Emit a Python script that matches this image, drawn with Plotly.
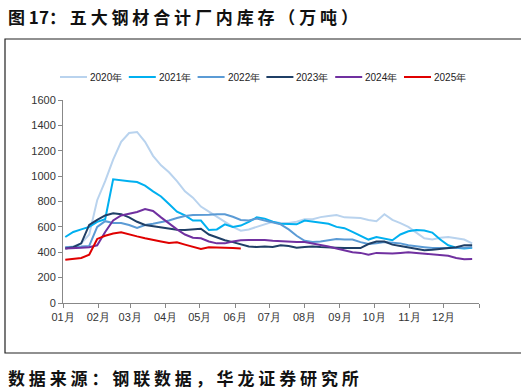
import pandas as pd
import plotly.graph_objects as go

weeks = pd.date_range("2023-01-03", periods=52, freq="7D").strftime("%Y-%m-%d").tolist()

s2020 = [440, 445, 470, 540, 810, 960, 1130, 1270, 1340, 1348, 1270, 1160, 1085, 1030, 960, 880,
         830, 760, 720, 680, 640, 600, 570, 580, 600, 620, 640, 630, 630, 640, 660, 660, 677, 685,
         693, 675, 670, 670, 655, 645, 700, 655, 630, 600, 555, 510, 500, 515, 520, 512, 500, 470]
s2021 = [520, 560, 580, 600, 640, 660, 975, 970, 960, 953, 925, 880, 840, 780, 720, 690, 650, 650,
         575, 580, 620, 600, 610, 640, 675, 665, 640, 625, 620, 620, 650, 640, 635, 625, 600, 590,
         560, 530, 500, 520, 505, 495, 540, 565, 575, 572, 555, 500, 455, 435, 430, 435]
s2022 = [440, 440, 445, 450, 600, 645, 630, 630, 615, 591, 615, 625, 635, 650, 670, 685, 693, 693,
         695, 700, 700, 680, 655, 650, 665, 650, 635, 620, 580, 530, 490, 480, 485, 495, 505, 500,
         500, 480, 465, 470, 480, 475, 470, 455, 450, 440, 433, 433, 433, 433, 435, 440]
s2023 = [430, 440, 470, 615, 655, 690, 708, 700, 675, 640, 615, 605, 600, 590, 578, 575, 580, 585,
         540, 515, 495, 480, 460, 445, 441, 445, 441, 455, 450, 435, 441, 445, 441, 441, 436, 433,
         433, 433, 465, 485, 485, 460, 450, 440, 430, 415, 420, 425, 433, 440, 455, 455]
s2024 = [430, 430, 435, 440, 455, 560, 650, 690, 705, 717, 740, 725, 675, 625, 580, 540, 515, 510,
         485, 470, 470, 485, 495, 497, 497, 497, 490, 485, 480, 480, 480, 470, 460, 445, 430, 415,
         400, 395, 380, 395, 390, 390, 395, 400, 395, 390, 385, 380, 372, 355, 345, 347]
s2025 = [340, 345, 355, 380, 505, 530, 548, 558, 540, 525, 510, 495, 485, 473, 478, 460, 445, 425,
         440, 441, 436, 433, 430]

series_names = ["2020年", "2021年", "2022年", "2023年", "2024年", "2025年"]
series_vals = [s2020, s2021, s2022, s2023, s2024, s2025]
colors = ["#B9D3EE", "#00B0F0", "#5B9BD5", "#1F3F66", "#7030A0", "#E00000"]

month_ticks = [f"2023-{m:02d}-01" for m in range(1, 13)] + ["2024-01-01"]
month_labels = [f"{m:02d}月" for m in range(1, 13)] + [""]
y_ticks = [0, 200, 400, 600, 800, 1000, 1200, 1400, 1600]

title_text = "图 17： " + " ".join("五大钢材合计厂内库存（万吨）")
source_text = " ".join("数据来源：钢联数据，华龙证券研究所")

fig = go.Figure()
for name, vals, col in zip(series_names, series_vals, colors):
    fig.add_trace(go.Scatter(x=weeks[:len(vals)], y=vals, name=name, mode="lines",
                             line=dict(color=col, width=2), showlegend=False))

L, R, T, B = 63, 479, 100, 303
W, H = 521, 392
def px(x):
    return (x - L) / (R - L)
def py(y):
    return (B - y) / (B - T)

shapes = [dict(type="rect", xref="paper", yref="paper", x0=px(5), x1=px(523),
               y0=py(353), y1=py(39), line=dict(color="#222222", width=1.2),
               fillcolor="rgba(0,0,0,0)", layer="below")]
annotations = [
    dict(text="<b>" + title_text + "</b>", xref="paper", yref="paper",
         x=px(6), y=py(17), xanchor="left", yanchor="middle", showarrow=False,
         font=dict(family="Noto Sans CJK SC", size=17, color="#111111")),
    dict(text="<b>" + source_text + "</b>", xref="paper", yref="paper",
         x=px(6), y=py(377), xanchor="left", yanchor="middle", showarrow=False,
         font=dict(family="Noto Sans CJK SC", size=17, color="#111111")),
]

# custom legend (line sample + label)
leg_x0, leg_step, leg_len, leg_y = 60, 68.8, 27, 77
for i, (name, col) in enumerate(zip(series_names, colors)):
    x0 = leg_x0 + i * leg_step
    shapes.append(dict(type="line", xref="paper", yref="paper", x0=px(x0), x1=px(x0 + leg_len),
                       y0=py(leg_y), y1=py(leg_y), line=dict(color=col, width=2)))
    annotations.append(dict(text=name, xref="paper", yref="paper", x=px(x0 + leg_len + 1),
                            y=py(leg_y), xanchor="left", yanchor="middle", showarrow=False,
                            font=dict(size=10, color="#222222")))

fig.update_layout(
    width=W, height=H,
    margin=dict(l=L, r=W - R, t=T, b=H - B),
    paper_bgcolor="white", plot_bgcolor="white",
    font=dict(family="Liberation Sans, Arial, sans-serif", size=11, color="#333333"),
    showlegend=False,
    xaxis=dict(type="date", range=["2023-01-01", "2024-01-01"], tickvals=month_ticks,
               ticktext=month_labels, showgrid=False, zeroline=False, showline=True,
               linecolor="#888888", linewidth=1, ticks="outside", tickcolor="#888888",
               ticklen=4, tickfont=dict(size=11, color="#333333")),
    yaxis=dict(range=[0, 1600], tickvals=y_ticks, showgrid=False, zeroline=False,
               showline=True, linecolor="#888888", linewidth=1, ticks="outside",
               tickcolor="#888888", ticklen=4, tickfont=dict(size=11, color="#333333")),
    shapes=shapes,
    annotations=annotations,
)

fig.write_html("out.html", config={"displayModeBar": False},
               post_script="document.body.style.margin='0';document.body.style.overflow='hidden';")
